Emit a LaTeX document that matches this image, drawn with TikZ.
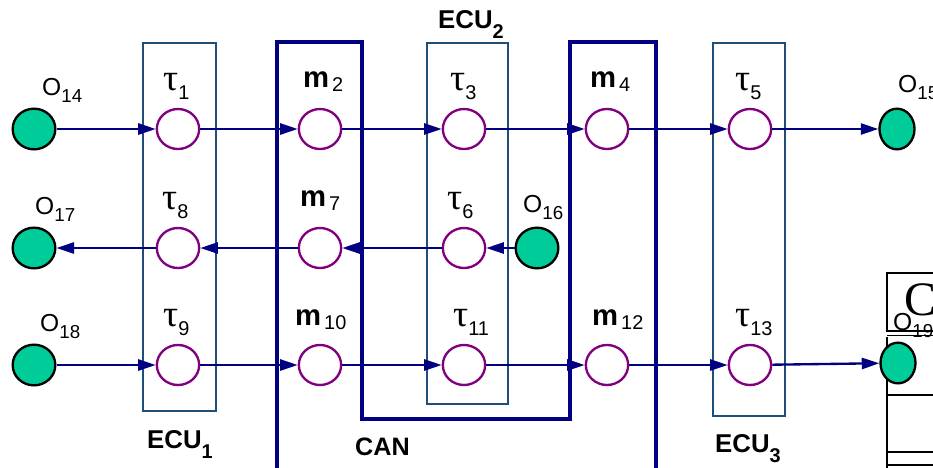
\documentclass[tikz,border=0pt]{standalone}
\usepackage{fontspec}
\setmainfont{Liberation Sans}
\newfontfamily\serifgr{Liberation Serif}
\usepackage{tikz}
\usetikzlibrary{arrows.meta,shapes.geometric}
\definecolor{navyline}{HTML}{000080}
\definecolor{ecuframe}{HTML}{1F4E79}
\definecolor{taskpurple}{HTML}{800080}
\definecolor{iogreen}{HTML}{00CC99}

\newcommand{\olab}[1]{\fontsize{21}{21}\selectfont O\raisebox{-6pt}{\fontsize{16}{16}\selectfont #1}}
\newcommand{\tlab}[1]{{\serifgr\fontsize{32}{32}\selectfont τ}\raisebox{-8pt}{\fontsize{17}{17}\selectfont #1}}
\newcommand{\mlab}[1]{{\bfseries\fontsize{25}{25}\selectfont m}\hspace{2.5pt}\raisebox{-4pt}{\fontsize{17}{17}\selectfont #1}}
\newcommand{\eculab}[1]{\bfseries\fontsize{22}{22}\selectfont ECU\raisebox{-9pt}{\fontsize{17}{17}\selectfont #1}}

\begin{document}
\begin{tikzpicture}[
  x=0.03cm,y=-0.03cm,
  task/.style={ellipse,draw=taskpurple,line width=2pt,fill=white,minimum width=1.27cm,minimum height=1.2cm,inner sep=0pt},
  io/.style={ellipse,draw=black,line width=2pt,fill=iogreen,minimum width=1.28cm,minimum height=1.22cm,inner sep=0pt},
  lab/.style={anchor=base west,inner sep=0pt},
  ecu/.style={draw=ecuframe,line width=1.8pt},
  can/.style={draw=navyline,line width=2.8pt},
  arr/.style={-{Triangle[length=15pt,width=9.5pt]},draw=navyline,line width=2pt}
]
\useasboundingbox (0,0) rectangle (933,467);
\clip (0,0) rectangle (933,467);
% ECU frames and CAN bus
\draw[ecu] (143,43) rectangle (216,411);
\draw[ecu] (427,43) rectangle (508,404);
\draw[ecu] (713,43) rectangle (785,416);
\draw[can] (277,475) -- (277,42) -- (362,42) -- (362,419) -- (570,419) -- (570,42) -- (656,42) -- (656,475);
% cut-off frame on the right
\draw[line width=1.6pt] (945,273) -- (887,273) -- (887,331) -- (945,331);
\draw[line width=0.8pt] (887,335) -- (945,335);
\draw[line width=1.6pt] (887,337) -- (887,475);
\draw[line width=1.6pt] (887,395) -- (945,395);
\draw[line width=1pt] (887,452) -- (945,452);
\draw[line width=1pt] (887,465) -- (945,465);
\node[lab,font=\serifgr\fontsize{41}{41}\selectfont] (bigc) at (904,315) {C};

% row 1
\node[io] (o14) at (34,129) {};
\node[task] (t1) at (178,129) {};
\node[task] (m2) at (320,129) {};
\node[task] (t3) at (464,129) {};
\node[task] (m4) at (607,129) {};
\node[task] (t5) at (750,129) {};
\node[io,minimum width=1.05cm] (o15) at (897,129) {};
% row 2
\node[io] (o17) at (34,248) {};
\node[task] (t8) at (178,248) {};
\node[task] (m7) at (320,248) {};
\node[task] (t6) at (464,248) {};
\node[io] (o16) at (537,248) {};
% row 3
\node[io] (o18) at (34,365) {};
\node[task] (t9) at (178,365) {};
\node[task] (m10) at (320,365) {};
\node[task] (t11) at (464,365) {};
\node[task] (m12) at (607,365) {};
\node[task] (t13) at (750,365) {};
\node[io,minimum width=1.05cm] (o19) at (898,363) {};

% labels
\node[lab] (lo14) at (42,95) {\olab{14}};
\node[lab] (lt1) at (163,90) {\tlab{1}};
\node[lab] (lm2) at (303,87) {\mlab{2}};
\node[lab] (lt3) at (450,90) {\tlab{3}};
\node[lab] (lm4) at (590,87) {\mlab{4}};
\node[lab] (lt5) at (735,90) {\tlab{5}};
\node[lab] (lo15) at (898,92) {\olab{15}};
\node[lab] (lo17) at (35,214) {\olab{17}};
\node[lab] (lt8) at (162,209) {\tlab{8}};
\node[lab] (lm7) at (300,206) {\mlab{7}};
\node[lab] (lt6) at (447,209) {\tlab{6}};
\node[lab] (lo16) at (523,212) {\olab{16}};
\node[lab] (lo18) at (40,331) {\olab{18}};
\node[lab] (lt9) at (163,326) {\tlab{9}};
\node[lab] (lm10) at (295,325) {\mlab{10}};
\node[lab] (lt11) at (453,326) {\tlab{11}};
\node[lab] (lm12) at (592,325) {\mlab{12}};
\node[lab] (lt13) at (735,326) {\tlab{13}};
\node[lab] (lo19) at (893,330) {\olab{19}};
\node[lab] (le1) at (147,448) {\eculab{1}};
\node[lab] (le2) at (438,28) {\eculab{2}};
\node[lab] (le3) at (715,452) {\eculab{3}};
\node[lab,font=\bfseries\fontsize{21.5}{21.5}\selectfont] (lcan) at (355,455) {CAN};

% flows
\draw[arr] (o14) -- (t1);
\draw[arr] (t1) -- (m2);
\draw[arr] (m2) -- (t3);
\draw[arr] (t3) -- (m4);
\draw[arr] (m4) -- (t5);
\draw[arr] (t5) -- (o15);
\draw[arr] (o16) -- (t6);
\draw[arr] (t6) -- (m7);
\draw[arr] (m7) -- (t8);
\draw[arr] (t8) -- (o17);
\draw[arr] (o18) -- (t9);
\draw[arr] (t9) -- (m10);
\draw[arr] (m10) -- (t11);
\draw[arr] (t11) -- (m12);
\draw[arr] (m12) -- (t13);
\draw[arr] (t13) -- (o19);
\end{tikzpicture}
\end{document}
